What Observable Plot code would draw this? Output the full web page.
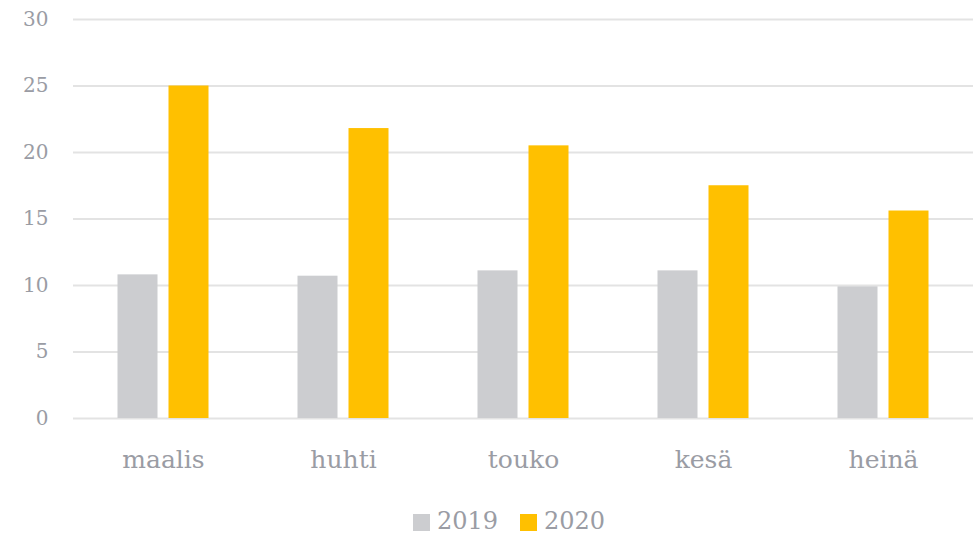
<!DOCTYPE html>
<html>
<head>
<meta charset="utf-8">
<script src="https://cdn.jsdelivr.net/npm/d3@7"></script>
<script src="https://cdn.jsdelivr.net/npm/@observablehq/plot@0.6"></script>
<style>
  html, body { margin: 0; padding: 0; background: #fff; }
  #wrap { width: 974px; height: 536px; font-family: "DejaVu Serif"; color: #9a9ca4; }
  .legend { display: flex; justify-content: center; align-items: center; height: 41px; padding-left: 44px; padding-top: 10px; box-sizing: border-box; font-size: 24px; }
  .legend .item { display: flex; align-items: center; margin: 0 11px; }
  .legend .sw { width: 17px; height: 17px; margin-right: 7px; margin-top: 4px; }
</style>
</head>
<body>
<div id="wrap"></div>
<script>
const months = ["maalis", "huhti", "touko", "kesä", "heinä"];
const years = ["2019", "2020"];
const values2019 = [10.8, 10.7, 11.1, 11.1, 9.9];
const values2020 = [25.0, 21.8, 20.5, 17.5, 15.6];
const colors = ["#cccdd0", "#ffc000"];
const yTicks = [0, 5, 10, 15, 20, 25, 30];

const data2019 = months.map((m, i) => ({month: m, year: years[0], value: values2019[i]}));
const data2020 = months.map((m, i) => ({month: m, year: years[1], value: values2020[i]}));

const chart = Plot.plot({
  width: 974,
  height: 495,
  marginLeft: 73,
  marginRight: 1,
  marginTop: 19,
  marginBottom: 77,
  style: {fontFamily: "DejaVu Serif", color: "#9a9ca4", background: "#fff"},
  x: {domain: months, padding: 0, label: null},
  y: {domain: [0, 30], label: null},
  marks: [
    Plot.ruleY(yTicks, {stroke: "#e3e3e3", strokeWidth: 2}),
    Plot.barY(data2019, {x: "month", y: "value", fill: colors[0], insetLeft: 70, insetRight: 70, dx: -25.5}),
    Plot.barY(data2020, {x: "month", y: "value", fill: colors[1], insetLeft: 70, insetRight: 70, dx: 25.5}),
    Plot.axisY(yTicks, {tickSize: 0, tickPadding: 25, fontSize: 20, label: null}),
    Plot.axisX({tickSize: 0, tickPadding: 32, fontSize: 25, label: null})
  ]
});

const wrap = document.getElementById("wrap");
wrap.appendChild(chart);

const legend = document.createElement("div");
legend.className = "legend";
years.forEach((y, i) => {
  const item = document.createElement("div");
  item.className = "item";
  const sw = document.createElement("span");
  sw.className = "sw";
  sw.style.background = colors[i];
  const t = document.createElement("span");
  t.textContent = y;
  item.appendChild(sw);
  item.appendChild(t);
  legend.appendChild(item);
});
wrap.appendChild(legend);
</script>
</body>
</html>
